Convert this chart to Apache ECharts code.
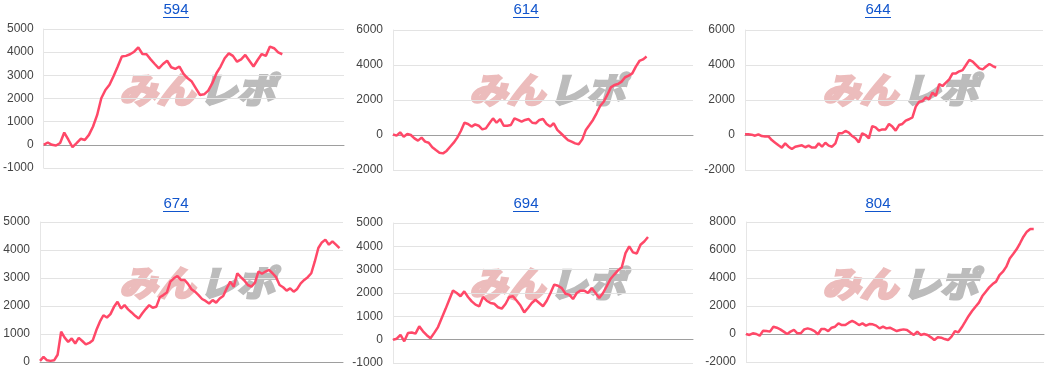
<!DOCTYPE html>
<html><head><meta charset="utf-8">
<script src="https://cdn.jsdelivr.net/npm/echarts@6/dist/echarts.min.js"></script>
<style>html,body{margin:0;padding:0;background:#fff;}#c{width:1050px;height:386px;}</style>
</head><body><div id="c"></div>
<script>
// Panel titles (machine numbers)
const titles = ['594', '614', '644', '674', '694', '804'];
// Total x slots on each panel's axis (series may stop before the end)
const xSlots = [74, 85, 90, 87, 81, 88];
// Y axis ranges
const yMin = [-1000, -2000, -2000, 0, -1000, -2000];
const yMax = [5000, 6000, 6000, 5000, 5000, 8000];
const yStep = [1000, 2000, 2000, 1000, 1000, 2000];

const s594 = [0,100,0,-30,80,530,220,-100,70,260,210,430,790,1290,2010,2370,2590,2970,3380,3810,3840,3910,4020,4210,3920,3910,3690,3490,3300,3490,3630,3350,3280,3380,3060,2870,2730,2440,2150,2180,2340,2660,3090,3380,3740,3950,3840,3590,3690,3880,3630,3380,3660,3920,3840,4240,4170,3990,3910];
const s614 = [40,-40,150,-100,60,0,-190,-320,-150,-380,-440,-700,-860,-1010,-1050,-910,-670,-440,-150,230,700,630,480,610,530,320,380,670,950,700,910,530,530,570,950,860,760,860,910,700,670,860,910,630,480,670,290,100,-100,-290,-380,-480,-530,-250,290,570,860,1240,1660,1900,2290,2720,2860,2910,3050,3300,3390,3520,3910,4230,4320,4480];
const s644 = [40,40,20,-40,40,-60,-80,-80,-290,-440,-590,-720,-480,-670,-800,-670,-630,-590,-700,-610,-720,-720,-480,-670,-440,-610,-670,-480,100,100,230,130,-60,-190,-420,100,0,-190,510,440,250,320,320,630,480,250,570,630,820,900,1010,1620,1900,1940,2150,2040,2420,2230,2910,2800,2990,3180,3520,3520,3640,3710,4000,4290,4190,4000,3810,3750,3910,4060,3940,3850];
const s674 = [40,180,60,40,60,260,1080,870,720,840,660,860,750,630,680,780,1140,1440,1670,1590,1710,1970,2150,1910,2030,1880,1770,1650,1550,1730,1890,2030,1940,1970,2310,2390,2480,2870,2990,3070,2930,2930,2790,2600,2510,2390,2250,2180,2090,2210,2120,2270,2360,2630,2870,2690,3170,3030,2910,2750,2690,2830,3230,3150,3230,3290,3170,3030,2750,2670,2550,2630,2510,2610,2810,2930,3030,3170,3590,4070,4270,4370,4190,4310,4190,4070];
const s694 = [0,40,210,-70,290,310,260,570,360,190,60,290,540,930,1310,1710,2110,2000,1860,2070,1830,1640,1500,1430,1830,1670,1570,1540,1390,1330,1530,1830,1860,1670,1460,1170,1360,1570,1710,1570,1430,1670,2000,2360,2310,2210,1970,1930,1740,2000,2100,2100,2000,2210,2000,1790,2000,2290,2600,2790,2970,3100,3710,4000,3740,3690,4070,4210,4400];
const s804 = [0,-70,50,0,-120,240,210,170,520,450,330,170,0,170,290,50,50,330,400,330,210,-20,360,360,210,450,520,760,640,640,810,930,810,640,760,600,710,690,600,400,520,400,450,330,210,290,330,290,100,-70,170,-70,0,-70,-240,-430,-240,-260,-360,-430,-190,210,120,480,880,1290,1640,1950,2240,2710,3020,3330,3570,3740,4210,4450,4810,5400,5710,6050,6480,6950,7310,7500,7500];
const seriesData = [s594, s614, s644, s674, s694, s804];

const grids = [
  {left: 43, top: 29, width: 301, height: 139},
  {left: 393, top: 30, width: 300, height: 140},
  {left: 745, top: 30, width: 298, height: 140},
  {left: 40, top: 222, width: 303, height: 140},
  {left: 393, top: 223, width: 300, height: 140},
  {left: 746, top: 222, width: 298, height: 140}
];
const titlePos = [[176, 10], [526, 10], [878, 10], [176, 204], [526, 204], [878, 204]];

const font = '"Liberation Sans", Arial, sans-serif';
const option = {
  animation: false,
  backgroundColor: '#fff',
  grid: grids,
  xAxis: grids.map((g, i) => ({
    type: 'category', gridIndex: i, boundaryGap: false,
    data: Array.from({length: xSlots[i]}, (_, k) => String(k)),
    axisLabel: {show: false}, axisTick: {show: false},
    axisLine: {show: true, onZero: true, lineStyle: {color: '#9e9e9e', width: 1}},
    splitLine: {show: false}
  })),
  yAxis: grids.map((g, i) => ({
    type: 'value', gridIndex: i, min: yMin[i], max: yMax[i], interval: yStep[i],
    axisLabel: {color: '#444', fontSize: 12, fontFamily: font, margin: 10, formatter: v => String(v)},
    axisTick: {show: false},
    axisLine: {show: true, lineStyle: {color: '#e6e6e6'}},
    splitLine: {show: true, lineStyle: {color: '#e3e3e3', width: 1}}
  })),
  series: seriesData.map((d, i) => ({
    type: 'line', xAxisIndex: i, yAxisIndex: i, data: d,
    symbol: 'none', z: 5,
    lineStyle: {color: '#ff4868', width: 2.5}
  })),
  graphic: []
};

// titles with link-style underline
titles.forEach((t, i) => {
  const p = titlePos[i];
  option.graphic.push({type: 'text', x: p[0], y: p[1], z: 10, style: {text: t, fontSize: 15,
    fontFamily: font, fill: '#1155cc', textAlign: 'center', textVerticalAlign: 'middle'}});
  option.graphic.push({type: 'line', z: 10, shape: {x1: p[0] - 13, y1: p[1] + 7.5, x2: p[0] + 13, y2: p[1] + 7.5},
    style: {stroke: '#1155cc', lineWidth: 1}});
});
// watermark logo text (faux-bold via same-colour stroke)
const wmPos = [[196, 90], [546, 90], [899, 90], [196, 283], [546, 284], [899, 284]];
wmPos.forEach(p => {
  option.graphic.push({type: 'group', x: p[0], y: p[1], z: 0, scaleX: 1.08, children: [
    {type: 'text', x: -1, y: 0, z: 0, style: {text: 'みん', fontSize: 35, fontWeight: 'bold', fontStyle: 'italic',
      fontFamily: '"Noto Sans CJK JP"', fill: '#ecbcbc', stroke: '#ecbcbc', lineWidth: 3,
      textAlign: 'right', textVerticalAlign: 'middle'}},
    {type: 'text', x: 3, y: 0, z: 0, style: {text: 'レポ', fontSize: 35, fontWeight: 'bold', fontStyle: 'italic',
      fontFamily: '"Noto Sans CJK JP"', fill: '#bcbcbc', stroke: '#bcbcbc', lineWidth: 3,
      textAlign: 'left', textVerticalAlign: 'middle'}}
  ]});
});

const chart = echarts.init(document.getElementById('c'), null, {renderer: 'canvas'});
chart.setOption(option);
</script></body></html>
